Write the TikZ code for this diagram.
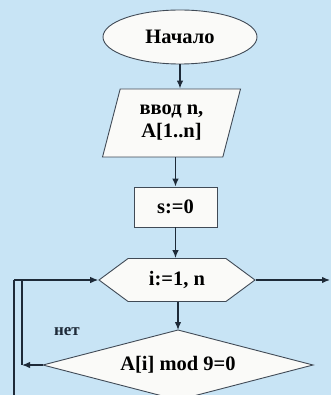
\documentclass[tikz,border=0pt]{standalone}
\usepackage{fontspec}
\setmainfont{Liberation Serif}
\usetikzlibrary{shapes.geometric,shapes.symbols,arrows.meta}
\definecolor{bgblue}{HTML}{C8E4F5}
\definecolor{inkc}{HTML}{1E2A38}
\definecolor{fillc}{HTML}{FAFAF8}
\tikzset{
  blk/.style={draw=inkc!85, line width=0.9pt, fill=fillc, inner sep=0pt,
    font=\fontsize{20.5}{24}\selectfont\bfseries, text=black, align=center},
  txt/.style={inner sep=0pt, font=\fontsize{20.5}{24}\selectfont\bfseries, text=black},
  arr/.style={draw=inkc, line width=1.3pt, -{Latex[length=8pt,width=6.5pt]}},
  ln/.style={draw=inkc, line width=1.3pt},
}
\begin{document}
\begin{tikzpicture}[x=1pt,y=-1pt]
\useasboundingbox (0,0) rectangle (331,395);
\fill[bgblue] (0,0) rectangle (331,395);
\node[blk, ellipse, minimum width=154pt, minimum height=54pt] (start) at (180,37) {Начало};
\node[blk, trapezium, trapezium left angle=72.8, trapezium right angle=107.2,
  trapezium stretches=true, minimum width=139pt, minimum height=68pt] (io) at (171.5,123)
  {ввод n,\\[-1pt] A[1..n]};
\node[blk, rectangle, minimum width=83pt, minimum height=40pt] (init) at (175.5,207) {s:=0};
\node[blk, signal, signal to=east and west, signal pointer angle=73,
  minimum width=156pt, minimum height=43pt] (loop) at (177,280) {i:=1, n};
% decision diamond
\coordinate (condN) at (178,330);
\coordinate (condE) at (313,365);
\coordinate (condS) at (178,400);
\coordinate (condW) at (43,365);
\filldraw[draw=inkc!85, line width=0.9pt, fill=fillc] (condN) -- (condE) -- (condS) -- (condW) -- cycle;
\node[txt] (cond) at (178,365) {A[i] mod 9=0};
\node[font=\fontsize{17}{19}\selectfont\bfseries, text=inkc] (no) at (67,332) {нет};
\coordinate (L1) at (14,280);
\coordinate (Lb) at (14,400);
\coordinate (L2) at (22,365);
\coordinate (R) at (330,280);
\draw[arr] (start.south) -- (start.south |- io.north);
\draw[arr] (io.south -| init.north) -- (init.north);
\draw[arr] (init.south) -- (init.south |- loop.north);
\draw[arr] (loop.south -| condN) -- (condN);
\draw[arr] (loop.east) -- (R);
\draw[arr] (L1) -- (loop.west);
\draw[ln] (L1) -- (Lb);
\draw[arr] (condW) -- (L2);
\draw[ln] (L2) -- (L2 |- L1);
\end{tikzpicture}
\end{document}
